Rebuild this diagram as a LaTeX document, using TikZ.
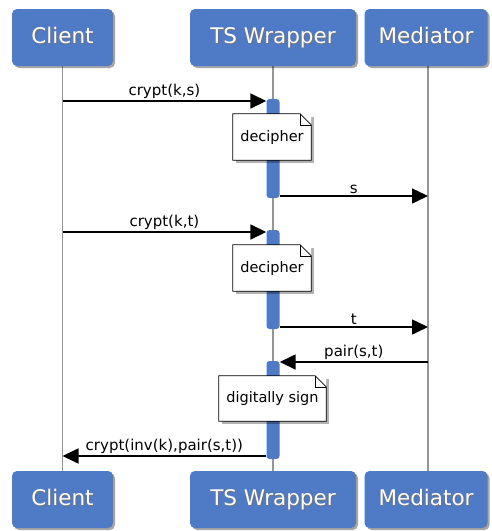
\documentclass[tikz,border=0pt]{standalone}
\usepackage{fontspec}
\setmainfont{DejaVu Sans}
\usetikzlibrary{shadows,arrows.meta,calc}

\definecolor{actorblue}{HTML}{4F7AC6}
\definecolor{lifegray}{HTML}{969696}

% white caption with a soft dark shadow under it
\newcommand\shtext[1]{\leavevmode\rlap{\kern1.2pt\raisebox{-1.2pt}{\textcolor{black!55}{#1}}}#1}

\begin{document}
\begin{tikzpicture}[x=1pt,y=-1pt,
  actorbox/.style={fill=actorblue, rounded corners=5pt, text=white,
    font=\fontsize{21.5}{24}\selectfont, minimum height=57pt, inner sep=0pt,
    text height=15.5pt, text depth=4.5pt,
    drop shadow={shadow xshift=2pt, shadow yshift=-2pt, opacity=0.35, fill=black}},
  lifeline/.style={draw=lifegray, line width=1.8pt},
  actbar/.style={fill=actorblue, rounded corners=3pt, minimum width=13pt, inner sep=0pt},
  msg/.style={draw=black, line width=1.6pt, -{Triangle[length=16pt,width=15pt]}},
  msglabel/.style={font=\fontsize{15}{17}\selectfont, inner sep=1.5pt},
  notebox/.style={fill=white, inner sep=0pt, font=\fontsize{14.5}{17}\selectfont,
    drop shadow={shadow xshift=2.5pt, shadow yshift=-2.5pt, opacity=0.3, fill=black}},
  noteline/.style={draw=black, line width=0.7pt, line join=miter}
]
\useasboundingbox (0,0) rectangle (491,531);

% lifelines (drawn first, behind everything)
\coordinate (cl) at (62.5,66);   \coordinate (clb) at (62.5,472);
\coordinate (tw) at (273,66);    \coordinate (twb) at (273,472);
\coordinate (md) at (428,66);    \coordinate (mdb) at (428,472);
\draw[lifeline] (cl) -- (clb);
\draw[lifeline] (tw) -- (twb);
\draw[lifeline] (md) -- (mdb);

% participants, top and bottom
\node[actorbox, minimum width=101pt] (clientT) at (62.5,37.5) {\shtext{Client}};
\node[actorbox, minimum width=166pt] (wrapT) at (273,37.5) {\shtext{TS Wrapper}};
\node[actorbox, minimum width=123pt] (medT) at (426,37.5) {\shtext{Mediator}};
\node[actorbox, minimum width=101pt] (clientB) at (62.5,499.5) {\shtext{Client}};
\node[actorbox, minimum width=166pt] (wrapB) at (273,499.5) {\shtext{TS Wrapper}};
\node[actorbox, minimum width=123pt] (medB) at (426,499.5) {\shtext{Mediator}};

% activation bars on the wrapper
\node[actbar, minimum height=99pt] (bar1) at (273,148.5) {};
\node[actbar, minimum height=99pt] (bar2) at (273,279.5) {};
\node[actbar, minimum height=98pt] (bar3) at (273,410) {};

% message end points on the lifelines
\coordinate (c1) at (62.5,101);
\coordinate (c2) at (62.5,232);
\coordinate (c3) at (62.5,456);
\coordinate (m1) at (428,196);
\coordinate (m2) at (428,327);
\coordinate (m3) at (428,362);

% messages
\draw[msg] (c1) -- node[msglabel, above] {crypt(k,s)} (c1 -| bar1.west);
\draw[msg] (m1 -| bar1.east) -- node[msglabel, above] {s} (m1);
\draw[msg] (c2) -- node[msglabel, above] {crypt(k,t)} (c2 -| bar2.west);
\draw[msg] (m2 -| bar2.east) -- node[msglabel, above] {t} (m2);
\draw[msg] (m3) -- node[msglabel, above] {pair(s,t)} (m3 -| bar3.east);
\draw[msg] (c3 -| bar3.west) -- node[msglabel, above] {crypt(inv(k),pair(s,t))} (c3);

% notes: white sheet, then an outline with a folded top-right corner
\node[notebox, minimum width=78pt, minimum height=46pt] (note1) at (272,137) {decipher};
\node[notebox, minimum width=78pt, minimum height=46pt] (note2) at (272,268) {decipher};
\node[notebox, minimum width=107pt, minimum height=45pt] (note3) at (272.5,398.5) {digitally sign};
\foreach \n in {note1,note2,note3} {
  \fill[white] ($(\n.north east)+(-11,0)$) -- (\n.north east) -- ($(\n.north east)+(0,11)$) -- cycle;
  \draw[noteline] (\n.north west) -- ($(\n.north east)+(-11,0)$)
    -- ($(\n.north east)+(0,11)$) -- (\n.south east) -- (\n.south west) -- cycle;
  \draw[noteline, line width=0.6pt] ($(\n.north east)+(-11,0)$) |- ($(\n.north east)+(0,11)$);
}
\end{tikzpicture}
\end{document}
